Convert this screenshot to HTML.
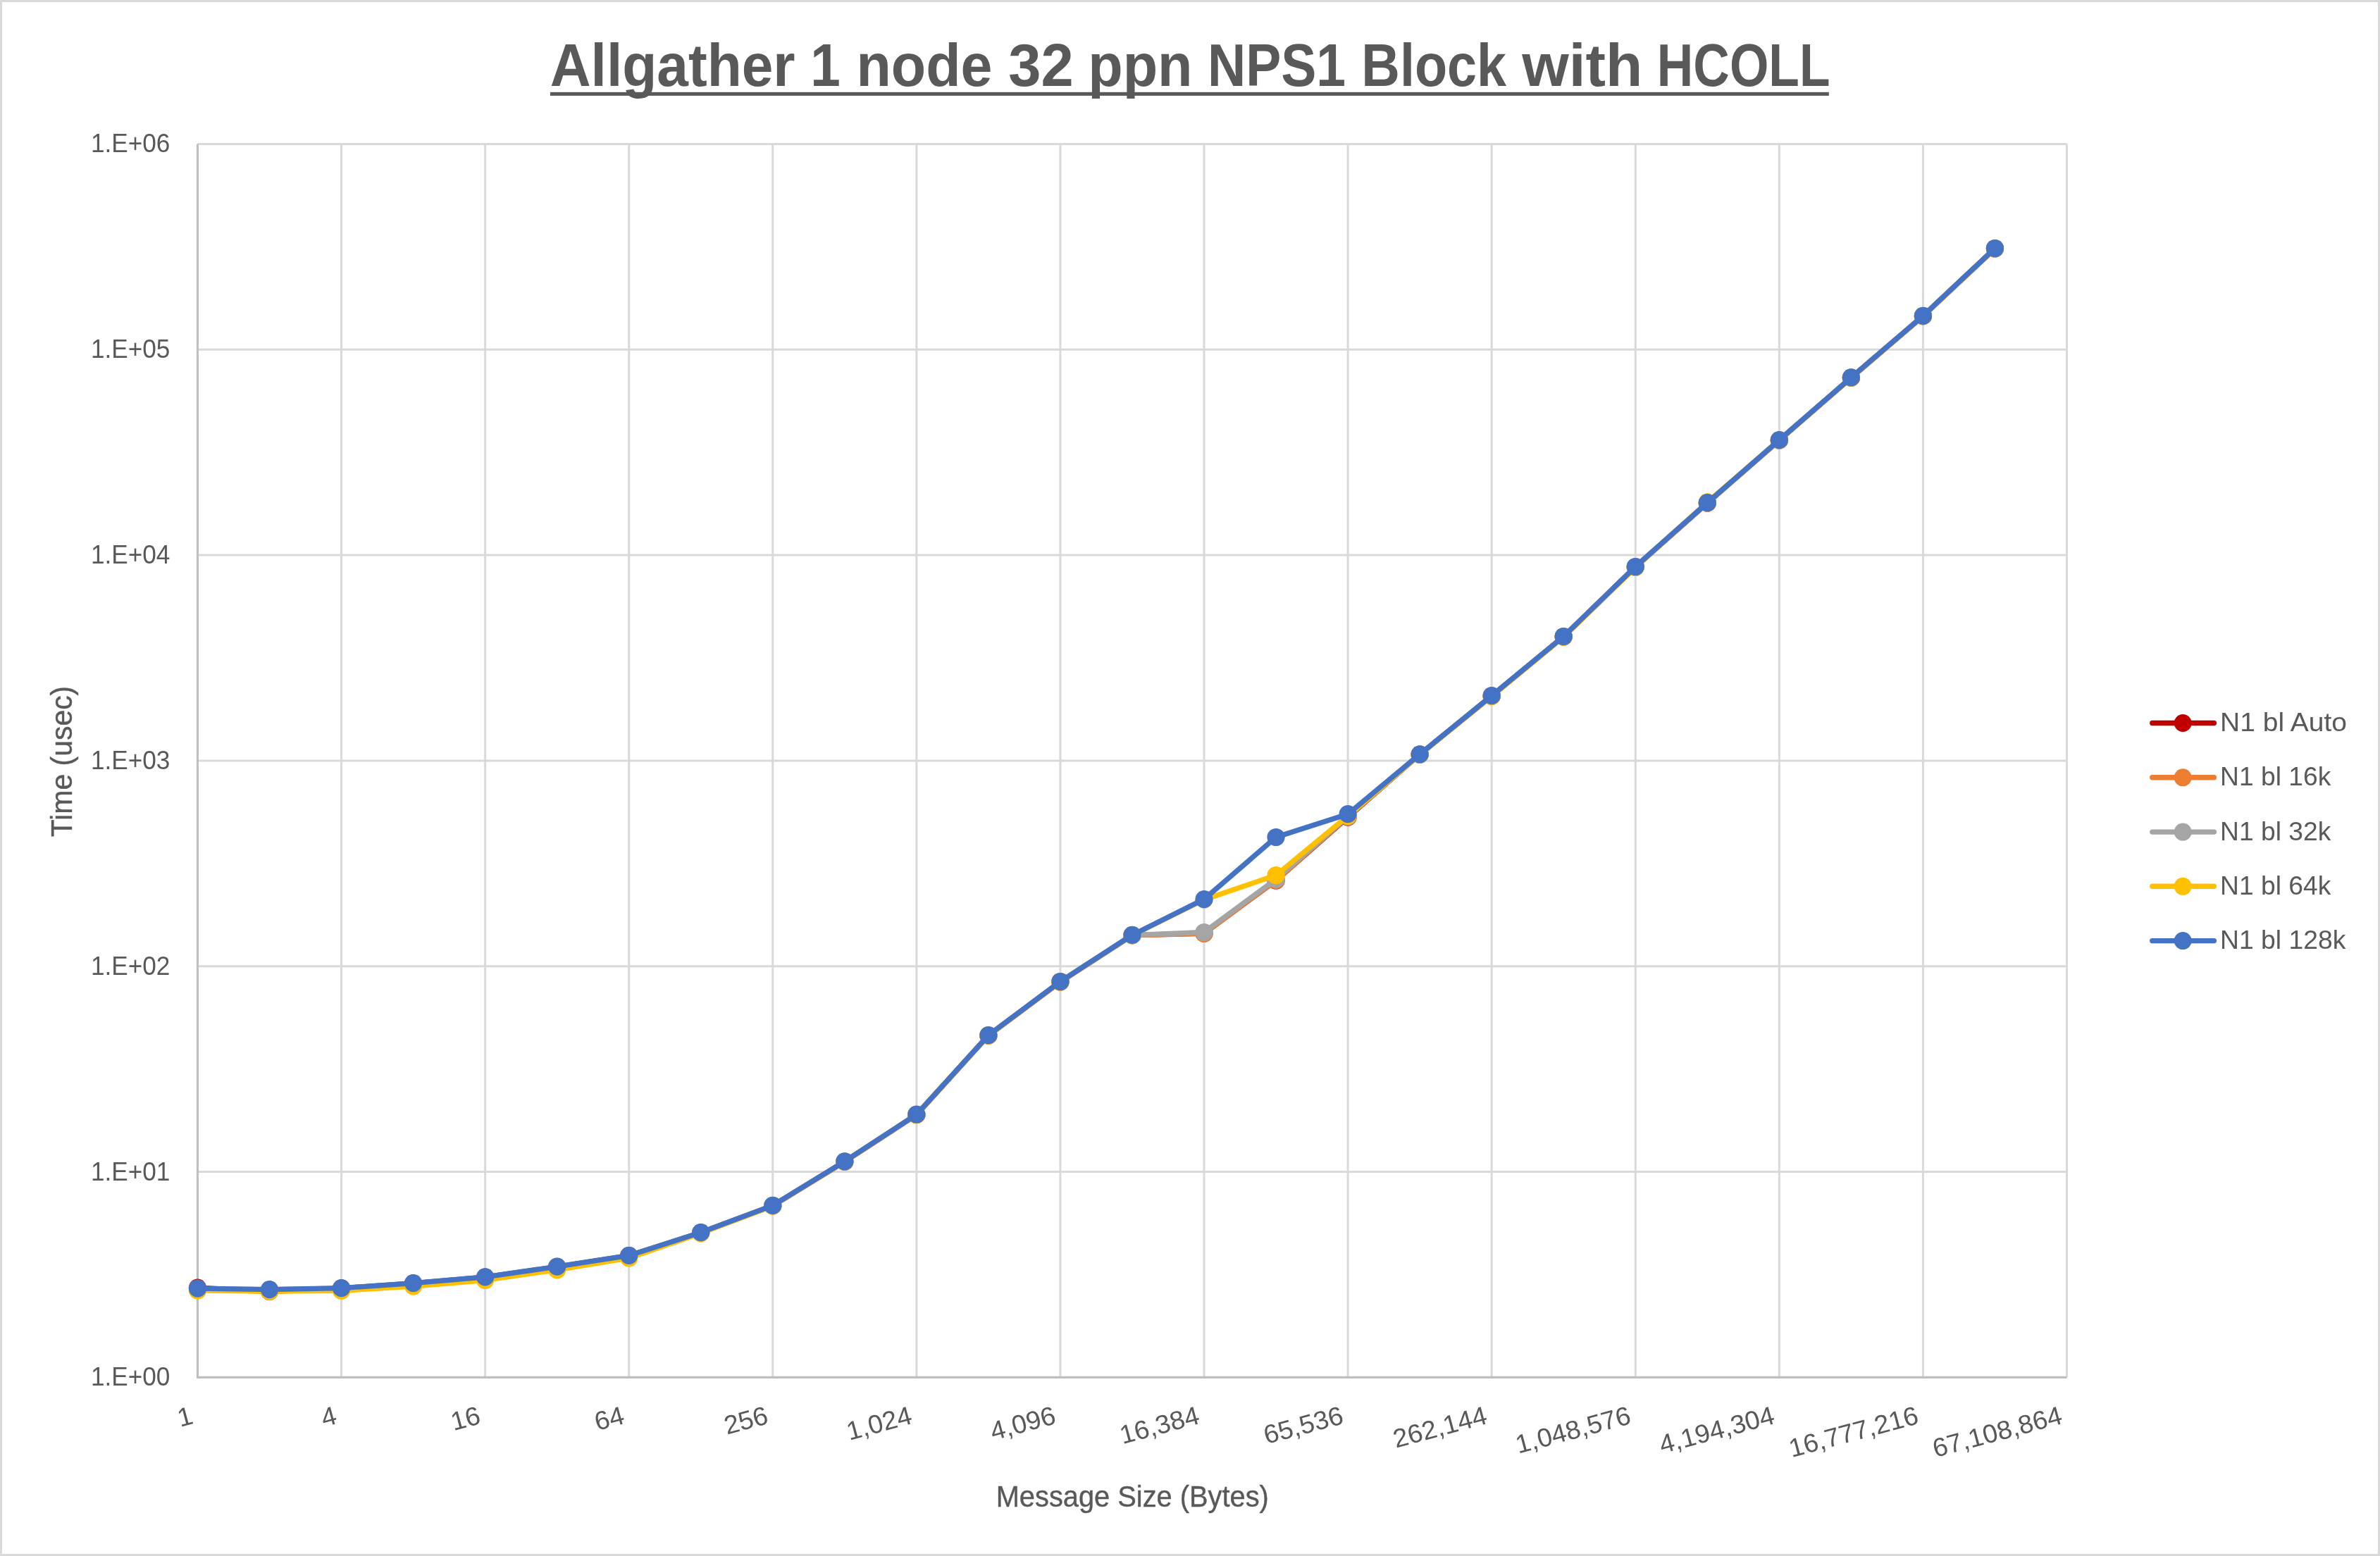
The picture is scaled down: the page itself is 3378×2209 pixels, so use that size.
<!DOCTYPE html>
<html><head><meta charset="utf-8"><title>Allgather 1 node 32 ppn NPS1 Block with HCOLL</title>
<style>html,body{margin:0;padding:0;background:#fff;}body{width:3378px;height:2209px;font-family:"Liberation Sans",sans-serif;}svg{display:block;will-change:transform;}text{font-family:"Liberation Sans",sans-serif;fill:#595959;}</style></head><body>
<svg width="3378" height="2209" viewBox="0 0 3378 2209">
<rect x="0" y="0" width="3378" height="2209" fill="#ffffff"/>
<rect x="1.5" y="1.5" width="3375.0" height="2206.0" fill="none" stroke="#D9D9D9" stroke-width="3"/>
<path d="M280.45 204.45H2933.49M280.45 496.27H2933.49M280.45 788.09H2933.49M280.45 1079.91H2933.49M280.45 1371.73H2933.49M280.45 1663.55H2933.49M484.53 204.45V1955.37M688.61 204.45V1955.37M892.69 204.45V1955.37M1096.77 204.45V1955.37M1300.85 204.45V1955.37M1504.93 204.45V1955.37M1709.01 204.45V1955.37M1913.09 204.45V1955.37M2117.17 204.45V1955.37M2321.25 204.45V1955.37M2525.33 204.45V1955.37M2729.41 204.45V1955.37M2933.49 204.45V1955.37" fill="none" stroke="#D9D9D9" stroke-width="3"/>
<path d="M280.45 204.45V1955.37H2933.49" fill="none" stroke="#BFBFBF" stroke-width="3.1" stroke-linejoin="miter"/>
<polyline points="280.45,1828.20 382.49,1833.40 484.53,1829.00 586.57,1821.90 688.61,1813.20 790.65,1798.50 892.69,1782.70 994.73,1749.90 1096.77,1711.70 1198.81,1649.10 1300.85,1582.50 1402.89,1470.00 1504.93,1393.80 1606.97,1327.70 1709.01,1325.00 1811.05,1250.00 1913.09,1160.20 2015.13,1071.10 2117.17,988.00 2219.21,903.80 2321.25,804.80 2423.29,714.00 2525.33,625.00 2627.37,536.20 2729.41,448.70 2831.45,352.80" fill="none" stroke="#C00000" stroke-width="7.3" stroke-linejoin="round" stroke-linecap="round"/>
<g fill="#C00000"><circle cx="280.45" cy="1828.20" r="12.6"/><circle cx="382.49" cy="1833.40" r="12.6"/><circle cx="484.53" cy="1829.00" r="12.6"/><circle cx="586.57" cy="1821.90" r="12.6"/><circle cx="688.61" cy="1813.20" r="12.6"/><circle cx="790.65" cy="1798.50" r="12.6"/><circle cx="892.69" cy="1782.70" r="12.6"/><circle cx="994.73" cy="1749.90" r="12.6"/><circle cx="1096.77" cy="1711.70" r="12.6"/><circle cx="1198.81" cy="1649.10" r="12.6"/><circle cx="1300.85" cy="1582.50" r="12.6"/><circle cx="1402.89" cy="1470.00" r="12.6"/><circle cx="1504.93" cy="1393.80" r="12.6"/><circle cx="1606.97" cy="1327.70" r="12.6"/><circle cx="1709.01" cy="1325.00" r="12.6"/><circle cx="1811.05" cy="1250.00" r="12.6"/><circle cx="1913.09" cy="1160.20" r="12.6"/><circle cx="2015.13" cy="1071.10" r="12.6"/><circle cx="2117.17" cy="988.00" r="12.6"/><circle cx="2219.21" cy="903.80" r="12.6"/><circle cx="2321.25" cy="804.80" r="12.6"/><circle cx="2423.29" cy="714.00" r="12.6"/><circle cx="2525.33" cy="625.00" r="12.6"/><circle cx="2627.37" cy="536.20" r="12.6"/><circle cx="2729.41" cy="448.70" r="12.6"/><circle cx="2831.45" cy="352.80" r="12.6"/></g>
<polyline points="280.45,1829.70 382.49,1833.60 484.53,1829.20 586.57,1822.10 688.61,1813.40 790.65,1798.70 892.69,1782.90 994.73,1750.10 1096.77,1711.90 1198.81,1649.30 1300.85,1582.70 1402.89,1470.20 1504.93,1394.00 1606.97,1327.90 1709.01,1325.40 1811.05,1249.70 1913.09,1159.60 2015.13,1071.30 2117.17,988.20 2219.21,904.00 2321.25,805.00 2423.29,714.20 2525.33,625.20 2627.37,536.40 2729.41,448.90 2831.45,353.00" fill="none" stroke="#ED7D31" stroke-width="7.3" stroke-linejoin="round" stroke-linecap="round"/>
<g fill="#ED7D31"><circle cx="280.45" cy="1829.70" r="12.6"/><circle cx="382.49" cy="1833.60" r="12.6"/><circle cx="484.53" cy="1829.20" r="12.6"/><circle cx="586.57" cy="1822.10" r="12.6"/><circle cx="688.61" cy="1813.40" r="12.6"/><circle cx="790.65" cy="1798.70" r="12.6"/><circle cx="892.69" cy="1782.90" r="12.6"/><circle cx="994.73" cy="1750.10" r="12.6"/><circle cx="1096.77" cy="1711.90" r="12.6"/><circle cx="1198.81" cy="1649.30" r="12.6"/><circle cx="1300.85" cy="1582.70" r="12.6"/><circle cx="1402.89" cy="1470.20" r="12.6"/><circle cx="1504.93" cy="1394.00" r="12.6"/><circle cx="1606.97" cy="1327.90" r="12.6"/><circle cx="1709.01" cy="1325.40" r="12.6"/><circle cx="1811.05" cy="1249.70" r="12.6"/><circle cx="1913.09" cy="1159.60" r="12.6"/><circle cx="2015.13" cy="1071.30" r="12.6"/><circle cx="2117.17" cy="988.20" r="12.6"/><circle cx="2219.21" cy="904.00" r="12.6"/><circle cx="2321.25" cy="805.00" r="12.6"/><circle cx="2423.29" cy="714.20" r="12.6"/><circle cx="2525.33" cy="625.20" r="12.6"/><circle cx="2627.37" cy="536.40" r="12.6"/><circle cx="2729.41" cy="448.90" r="12.6"/><circle cx="2831.45" cy="353.00" r="12.6"/></g>
<polyline points="280.45,1829.40 382.49,1830.80 484.53,1828.90 586.57,1821.80 688.61,1813.10 790.65,1798.40 892.69,1782.60 994.73,1749.80 1096.77,1711.60 1198.81,1649.00 1300.85,1582.40 1402.89,1469.90 1504.93,1393.70 1606.97,1327.60 1709.01,1323.50 1811.05,1248.10 1913.09,1159.00 2015.13,1071.00 2117.17,987.90 2219.21,903.70 2321.25,804.70 2423.29,713.90 2525.33,624.90 2627.37,536.10 2729.41,448.60 2831.45,352.70" fill="none" stroke="#A5A5A5" stroke-width="7.3" stroke-linejoin="round" stroke-linecap="round"/>
<g fill="#A5A5A5"><circle cx="280.45" cy="1829.40" r="12.6"/><circle cx="382.49" cy="1830.80" r="12.6"/><circle cx="484.53" cy="1828.90" r="12.6"/><circle cx="586.57" cy="1821.80" r="12.6"/><circle cx="688.61" cy="1813.10" r="12.6"/><circle cx="790.65" cy="1798.40" r="12.6"/><circle cx="892.69" cy="1782.60" r="12.6"/><circle cx="994.73" cy="1749.80" r="12.6"/><circle cx="1096.77" cy="1711.60" r="12.6"/><circle cx="1198.81" cy="1649.00" r="12.6"/><circle cx="1300.85" cy="1582.40" r="12.6"/><circle cx="1402.89" cy="1469.90" r="12.6"/><circle cx="1504.93" cy="1393.70" r="12.6"/><circle cx="1606.97" cy="1327.60" r="12.6"/><circle cx="1709.01" cy="1323.50" r="12.6"/><circle cx="1811.05" cy="1248.10" r="12.6"/><circle cx="1913.09" cy="1159.00" r="12.6"/><circle cx="2015.13" cy="1071.00" r="12.6"/><circle cx="2117.17" cy="987.90" r="12.6"/><circle cx="2219.21" cy="903.70" r="12.6"/><circle cx="2321.25" cy="804.70" r="12.6"/><circle cx="2423.29" cy="713.90" r="12.6"/><circle cx="2525.33" cy="624.90" r="12.6"/><circle cx="2627.37" cy="536.10" r="12.6"/><circle cx="2729.41" cy="448.60" r="12.6"/><circle cx="2831.45" cy="352.70" r="12.6"/></g>
<polyline points="280.45,1832.20 382.49,1833.20 484.53,1832.40 586.57,1826.10 688.61,1817.50 790.65,1802.80 892.69,1786.00 994.73,1750.80 1096.77,1712.00 1198.81,1649.10 1300.85,1582.50 1402.89,1470.00 1504.93,1393.80 1606.97,1327.70 1709.01,1277.20 1811.05,1242.50 1913.09,1158.30 2015.13,1071.30 2117.17,988.70 2219.21,904.10 2321.25,805.50 2423.29,712.90 2525.33,625.00 2627.37,536.20 2729.41,448.70 2831.45,352.80" fill="none" stroke="#FFC000" stroke-width="7.3" stroke-linejoin="round" stroke-linecap="round"/>
<g fill="#FFC000"><circle cx="280.45" cy="1832.20" r="12.6"/><circle cx="382.49" cy="1833.20" r="12.6"/><circle cx="484.53" cy="1832.40" r="12.6"/><circle cx="586.57" cy="1826.10" r="12.6"/><circle cx="688.61" cy="1817.50" r="12.6"/><circle cx="790.65" cy="1802.80" r="12.6"/><circle cx="892.69" cy="1786.00" r="12.6"/><circle cx="994.73" cy="1750.80" r="12.6"/><circle cx="1096.77" cy="1712.00" r="12.6"/><circle cx="1198.81" cy="1649.10" r="12.6"/><circle cx="1300.85" cy="1582.50" r="12.6"/><circle cx="1402.89" cy="1470.00" r="12.6"/><circle cx="1504.93" cy="1393.80" r="12.6"/><circle cx="1606.97" cy="1327.70" r="12.6"/><circle cx="1709.01" cy="1277.20" r="12.6"/><circle cx="1811.05" cy="1242.50" r="12.6"/><circle cx="1913.09" cy="1158.30" r="12.6"/><circle cx="2015.13" cy="1071.30" r="12.6"/><circle cx="2117.17" cy="988.70" r="12.6"/><circle cx="2219.21" cy="904.10" r="12.6"/><circle cx="2321.25" cy="805.50" r="12.6"/><circle cx="2423.29" cy="712.90" r="12.6"/><circle cx="2525.33" cy="625.00" r="12.6"/><circle cx="2627.37" cy="536.20" r="12.6"/><circle cx="2729.41" cy="448.70" r="12.6"/><circle cx="2831.45" cy="352.80" r="12.6"/></g>
<polyline points="280.45,1829.20 382.49,1830.60 484.53,1828.70 586.57,1821.60 688.61,1812.90 790.65,1798.20 892.69,1782.40 994.73,1749.60 1096.77,1711.40 1198.81,1648.80 1300.85,1582.20 1402.89,1469.70 1504.93,1393.50 1606.97,1327.40 1709.01,1276.60 1811.05,1188.50 1913.09,1155.70 2015.13,1070.80 2117.17,987.70 2219.21,903.50 2321.25,804.50 2423.29,713.70 2525.33,624.70 2627.37,535.90 2729.41,448.40 2831.45,352.50" fill="none" stroke="#4472C4" stroke-width="7.3" stroke-linejoin="round" stroke-linecap="round"/>
<g fill="#4472C4"><circle cx="280.45" cy="1829.20" r="12.6"/><circle cx="382.49" cy="1830.60" r="12.6"/><circle cx="484.53" cy="1828.70" r="12.6"/><circle cx="586.57" cy="1821.60" r="12.6"/><circle cx="688.61" cy="1812.90" r="12.6"/><circle cx="790.65" cy="1798.20" r="12.6"/><circle cx="892.69" cy="1782.40" r="12.6"/><circle cx="994.73" cy="1749.60" r="12.6"/><circle cx="1096.77" cy="1711.40" r="12.6"/><circle cx="1198.81" cy="1648.80" r="12.6"/><circle cx="1300.85" cy="1582.20" r="12.6"/><circle cx="1402.89" cy="1469.70" r="12.6"/><circle cx="1504.93" cy="1393.50" r="12.6"/><circle cx="1606.97" cy="1327.40" r="12.6"/><circle cx="1709.01" cy="1276.60" r="12.6"/><circle cx="1811.05" cy="1188.50" r="12.6"/><circle cx="1913.09" cy="1155.70" r="12.6"/><circle cx="2015.13" cy="1070.80" r="12.6"/><circle cx="2117.17" cy="987.70" r="12.6"/><circle cx="2219.21" cy="903.50" r="12.6"/><circle cx="2321.25" cy="804.50" r="12.6"/><circle cx="2423.29" cy="713.70" r="12.6"/><circle cx="2525.33" cy="624.70" r="12.6"/><circle cx="2627.37" cy="535.90" r="12.6"/><circle cx="2729.41" cy="448.40" r="12.6"/><circle cx="2831.45" cy="352.50" r="12.6"/></g>
<text x="780.63" y="122.0" font-size="85.8" font-weight="bold" textLength="347.96" lengthAdjust="spacingAndGlyphs">Allgather</text>
<text x="1150.22" y="122.0" font-size="85.8" font-weight="bold" textLength="42.54" lengthAdjust="spacingAndGlyphs">1</text>
<text x="1215.56" y="122.0" font-size="85.8" font-weight="bold" textLength="192.88" lengthAdjust="spacingAndGlyphs">node</text>
<text x="1431.16" y="122.0" font-size="85.8" font-weight="bold" textLength="92.46" lengthAdjust="spacingAndGlyphs">32</text>
<text x="1544.23" y="122.0" font-size="85.8" font-weight="bold" textLength="148.26" lengthAdjust="spacingAndGlyphs">ppn</text>
<text x="1713.97" y="122.0" font-size="85.8" font-weight="bold" textLength="196.10" lengthAdjust="spacingAndGlyphs">NPS1</text>
<text x="1932.33" y="122.0" font-size="85.8" font-weight="bold" textLength="205.75" lengthAdjust="spacingAndGlyphs">Block</text>
<text x="2160.22" y="122.0" font-size="85.8" font-weight="bold" textLength="170.98" lengthAdjust="spacingAndGlyphs">with</text>
<text x="2351.87" y="122.0" font-size="85.8" font-weight="bold" textLength="245.64" lengthAdjust="spacingAndGlyphs">HCOLL</text>
<rect x="780.9" y="130.8" width="1814.9" height="5.1" fill="#595959"/>
<text x="241.4" y="216.3" font-size="37.0" text-anchor="end" textLength="112.4" lengthAdjust="spacingAndGlyphs">1.E+06</text>
<text x="241.4" y="508.2" font-size="37.0" text-anchor="end" textLength="112.4" lengthAdjust="spacingAndGlyphs">1.E+05</text>
<text x="241.4" y="800.0" font-size="37.0" text-anchor="end" textLength="112.4" lengthAdjust="spacingAndGlyphs">1.E+04</text>
<text x="241.4" y="1091.8" font-size="37.0" text-anchor="end" textLength="112.4" lengthAdjust="spacingAndGlyphs">1.E+03</text>
<text x="241.4" y="1383.6" font-size="37.0" text-anchor="end" textLength="112.4" lengthAdjust="spacingAndGlyphs">1.E+02</text>
<text x="241.4" y="1675.5" font-size="37.0" text-anchor="end" textLength="112.4" lengthAdjust="spacingAndGlyphs">1.E+01</text>
<text x="241.4" y="1967.3" font-size="37.0" text-anchor="end" textLength="112.4" lengthAdjust="spacingAndGlyphs">1.E+00</text>
<text transform="translate(275.9 2020.5) rotate(-15) scale(1.0175 1)" x="0" y="0" font-size="37.0" text-anchor="end">1</text>
<text transform="translate(480.0 2020.5) rotate(-15) scale(1.0175 1)" x="0" y="0" font-size="37.0" text-anchor="end">4</text>
<text transform="translate(684.1 2020.5) rotate(-15) scale(1.0175 1)" x="0" y="0" font-size="37.0" text-anchor="end">16</text>
<text transform="translate(888.2 2020.5) rotate(-15) scale(1.0175 1)" x="0" y="0" font-size="37.0" text-anchor="end">64</text>
<text transform="translate(1092.3 2020.5) rotate(-15) scale(1.0175 1)" x="0" y="0" font-size="37.0" text-anchor="end">256</text>
<text transform="translate(1296.4 2020.5) rotate(-15) scale(1.0175 1)" x="0" y="0" font-size="37.0" text-anchor="end">1,024</text>
<text transform="translate(1500.4 2020.5) rotate(-15) scale(1.0175 1)" x="0" y="0" font-size="37.0" text-anchor="end">4,096</text>
<text transform="translate(1704.5 2020.5) rotate(-15) scale(1.0175 1)" x="0" y="0" font-size="37.0" text-anchor="end">16,384</text>
<text transform="translate(1908.6 2020.5) rotate(-15) scale(1.0175 1)" x="0" y="0" font-size="37.0" text-anchor="end">65,536</text>
<text transform="translate(2112.7 2020.5) rotate(-15) scale(1.0175 1)" x="0" y="0" font-size="37.0" text-anchor="end">262,144</text>
<text transform="translate(2316.8 2020.5) rotate(-15) scale(1.0175 1)" x="0" y="0" font-size="37.0" text-anchor="end">1,048,576</text>
<text transform="translate(2520.8 2020.5) rotate(-15) scale(1.0175 1)" x="0" y="0" font-size="37.0" text-anchor="end">4,194,304</text>
<text transform="translate(2724.9 2020.5) rotate(-15) scale(1.0175 1)" x="0" y="0" font-size="37.0" text-anchor="end">16,777,216</text>
<text transform="translate(2929.0 2020.5) rotate(-15) scale(1.0175 1)" x="0" y="0" font-size="37.0" text-anchor="end">67,108,864</text>
<text x="1607.3" y="2138.8" font-size="42.2" text-anchor="middle" stroke="#595959" stroke-width="0.4" textLength="387.2" lengthAdjust="spacingAndGlyphs">Message Size (Bytes)</text>
<text transform="translate(102.3 1081.0) rotate(-90)" x="0" y="0" font-size="42.2" text-anchor="middle" stroke="#595959" stroke-width="0.4" textLength="214.5" lengthAdjust="spacingAndGlyphs">Time (usec)</text>
<path d="M3054.8 1026.5H3142.4" stroke="#C00000" stroke-width="7.4" stroke-linecap="round" fill="none"/>
<circle cx="3098.2" cy="1026.5" r="12.5" fill="#C00000"/>
<text x="3151" y="1038.1" font-size="37.4" textLength="180.0" lengthAdjust="spacingAndGlyphs">N1 bl Auto</text>
<path d="M3054.8 1103.8H3142.4" stroke="#ED7D31" stroke-width="7.4" stroke-linecap="round" fill="none"/>
<circle cx="3098.2" cy="1103.8" r="12.5" fill="#ED7D31"/>
<text x="3151" y="1115.4" font-size="37.4" textLength="157.3" lengthAdjust="spacingAndGlyphs">N1 bl 16k</text>
<path d="M3054.8 1181.1H3142.4" stroke="#A5A5A5" stroke-width="7.4" stroke-linecap="round" fill="none"/>
<circle cx="3098.2" cy="1181.1" r="12.5" fill="#A5A5A5"/>
<text x="3151" y="1192.7" font-size="37.4" textLength="157.3" lengthAdjust="spacingAndGlyphs">N1 bl 32k</text>
<path d="M3054.8 1258.3H3142.4" stroke="#FFC000" stroke-width="7.4" stroke-linecap="round" fill="none"/>
<circle cx="3098.2" cy="1258.3" r="12.5" fill="#FFC000"/>
<text x="3151" y="1269.9" font-size="37.4" textLength="157.3" lengthAdjust="spacingAndGlyphs">N1 bl 64k</text>
<path d="M3054.8 1335.6H3142.4" stroke="#4472C4" stroke-width="7.4" stroke-linecap="round" fill="none"/>
<circle cx="3098.2" cy="1335.6" r="12.5" fill="#4472C4"/>
<text x="3151" y="1347.2" font-size="37.4" textLength="178.5" lengthAdjust="spacingAndGlyphs">N1 bl 128k</text>
</svg></body></html>
